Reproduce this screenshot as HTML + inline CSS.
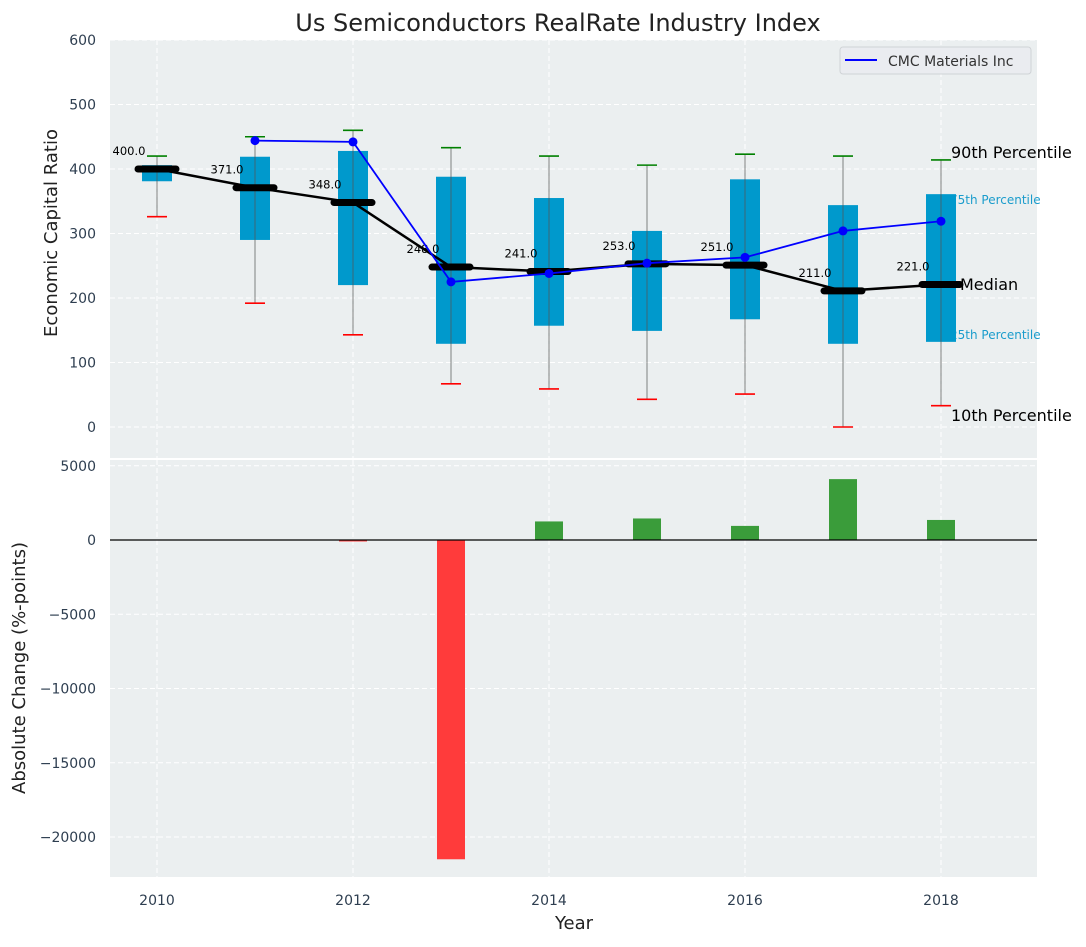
<!DOCTYPE html>
<html><head><meta charset="utf-8"><style>
body{margin:0;background:#fff;font-family:"Liberation Sans","DejaVu Sans",sans-serif}
svg text{font-family:"DejaVu Sans","Liberation Sans",sans-serif}
</style></head><body>
<svg id="c" width="1086" height="942" xmlns="http://www.w3.org/2000/svg"></svg>
<script>
const years=[2010,2011,2012,2013,2014,2015,2016,2017,2018];
const medians=[400,371,348,248,241,253,251,211,221];
const q75=[406,419,428,388,355,304,384,344,361];
const q25=[381,290,220,129,157,149,167,129,132];
const p90=[420,450,460,433,420,406,423,420,414];
const p10=[326,192,143,67,59,43,51,0,33];
const cmcYears=[2011,2012,2013,2014,2015,2016,2017,2018];
const cmcValues=[444,442,225,238,254,263,304,319];
const changeYears=[2012,2013,2014,2015,2016,2017,2018];
const changeValues=[-100,-21500,1250,1450,950,4100,1350];
const topTicks=[0,100,200,300,400,500,600];
const botTicks=[5000,0,-5000,-10000,-15000,-20000];
const xTicks=[2010,2012,2014,2016,2018];

const S=document.getElementById('c');const NS='http://www.w3.org/2000/svg';
function el(t,a,txt,p){const e=document.createElementNS(NS,t);for(const k in a)e.setAttribute(k,a[k]);if(txt!=null)e.textContent=txt;(p||S).appendChild(e);return e;}
const L=110,R=1037;
const X=y=>157+(y-2010)*98;
const YT=v=>427-0.645*v;
const YB=v=>540-0.01485*v;
const grid='#ffffff';
let e;
e=el('rect',{x:L,y:40,width:R-L,height:418,fill:'#ebeff0'});

e=el('rect',{x:L,y:460,width:R-L,height:417,fill:'#ebeff0'});

topTicks.forEach(t=>{el('line',{x1:L,x2:R,y1:YT(t),y2:YT(t),stroke:grid,'stroke-dasharray':'5,3'});
 e=el('text',{x:96,y:YT(t)+5,'text-anchor':'end','font-size':14,fill:'#2e3e50'},t);
 });
botTicks.forEach(t=>{el('line',{x1:L,x2:R,y1:YB(t),y2:YB(t),stroke:grid,'stroke-dasharray':'5,3'});
 e=el('text',{x:96,y:YB(t)+5,'text-anchor':'end','font-size':14,fill:'#2e3e50'},t<0?'\u2212'+(-t):t);
 });
xTicks.forEach(t=>{el('line',{x1:X(t),x2:X(t),y1:40,y2:458,stroke:grid,'stroke-dasharray':'5,3'});
 el('line',{x1:X(t),x2:X(t),y1:460,y2:877,stroke:grid,'stroke-dasharray':'5,3'});
 e=el('text',{x:X(t),y:905,'text-anchor':'middle','font-size':14,fill:'#2e3e50'},t);
 });
const lab=[['90th Percentile',951,158,16,'#000'],['75th Percentile',950,204,12,'#1a9ccc'],['Median',960,290,16,'#000'],['25th Percentile',950,339,12,'#1a9ccc'],['10th Percentile',951,421,16,'#000']];
lab.forEach(l=>{e=el('text',{x:l[1],y:l[2],'font-size':l[3],fill:l[4]},l[0]);});
years.forEach((y,i)=>{const x=X(y);
 e=el('rect',{x:x-15,y:YT(q75[i]),width:30,height:YT(q25[i])-YT(q75[i]),fill:'#0099cc'});
 
 el('line',{x1:x,x2:x,y1:YT(p90[i]),y2:YT(p10[i]),stroke:'#555','stroke-opacity':0.6,'stroke-width':1.2});
 e=el('line',{x1:x-10,x2:x+10,y1:YT(p90[i]),y2:YT(p90[i]),stroke:'green','stroke-width':1.6});
 
 e=el('line',{x1:x-10,x2:x+10,y1:YT(p10[i]),y2:YT(p10[i]),stroke:'red','stroke-width':1.6});
 
});
e=el('polyline',{points:years.map((y,i)=>X(y)+','+YT(medians[i])).join(' '),fill:'none',stroke:'#000','stroke-width':2.5});

years.forEach((y,i)=>{const x=X(y);
 e=el('line',{x1:x-19,x2:x+19,y1:YT(medians[i]),y2:YT(medians[i]),stroke:'#000','stroke-width':7,'stroke-linecap':'round'});
 
 e=el('text',{x:x-28,y:YT(medians[i])-14,'text-anchor':'middle','font-size':11.5,fill:'#000'},medians[i].toFixed(1));
 
});
e=el('polyline',{points:cmcYears.map((y,i)=>X(y)+','+YT(cmcValues[i])).join(' '),fill:'none',stroke:'#0000ff','stroke-width':1.8});

cmcYears.forEach((y,i)=>{e=el('circle',{cx:X(y),cy:YT(cmcValues[i]),r:4.5,fill:'#0000ff'});
 });
e=el('g',{});
el('rect',{x:840,y:47,width:191,height:27,rx:3,fill:'#eaecf0',stroke:'#cfd3d6'},null,e);
el('line',{x1:845,x2:877,y1:60,y2:60,stroke:'#0000ff','stroke-width':2},null,e);
el('text',{x:888,y:66,'font-size':14,fill:'#333'},'CMC Materials Inc',e);
changeYears.forEach((y,i)=>{const v=changeValues[i];const y0=YB(0),y1=YB(v);
 e=el('rect',{x:X(y)-14,y:Math.min(y0,y1),width:28,height:Math.max(1.5,Math.abs(y1-y0)),fill:v<0?'#ff3b3b':'#3a9c3a'});
 });
el('line',{x1:L,x2:R,y1:YB(0),y2:YB(0),stroke:'#000','stroke-width':1.2});
e=el('text',{x:558,y:31,'text-anchor':'middle','font-size':24,fill:'#222'},'Us Semiconductors RealRate Industry Index');

e=el('text',{x:0,y:0,'text-anchor':'middle','font-size':18,fill:'#222',transform:'translate(57,233) rotate(-90)'},'Economic Capital Ratio');

e=el('text',{x:0,y:0,'text-anchor':'middle','font-size':18,fill:'#222',transform:'translate(25,668) rotate(-90)'},'Absolute Change (%-points)');

e=el('text',{x:574,y:929,'text-anchor':'middle','font-size':18,fill:'#222'},'Year');

</script>
</body></html>
